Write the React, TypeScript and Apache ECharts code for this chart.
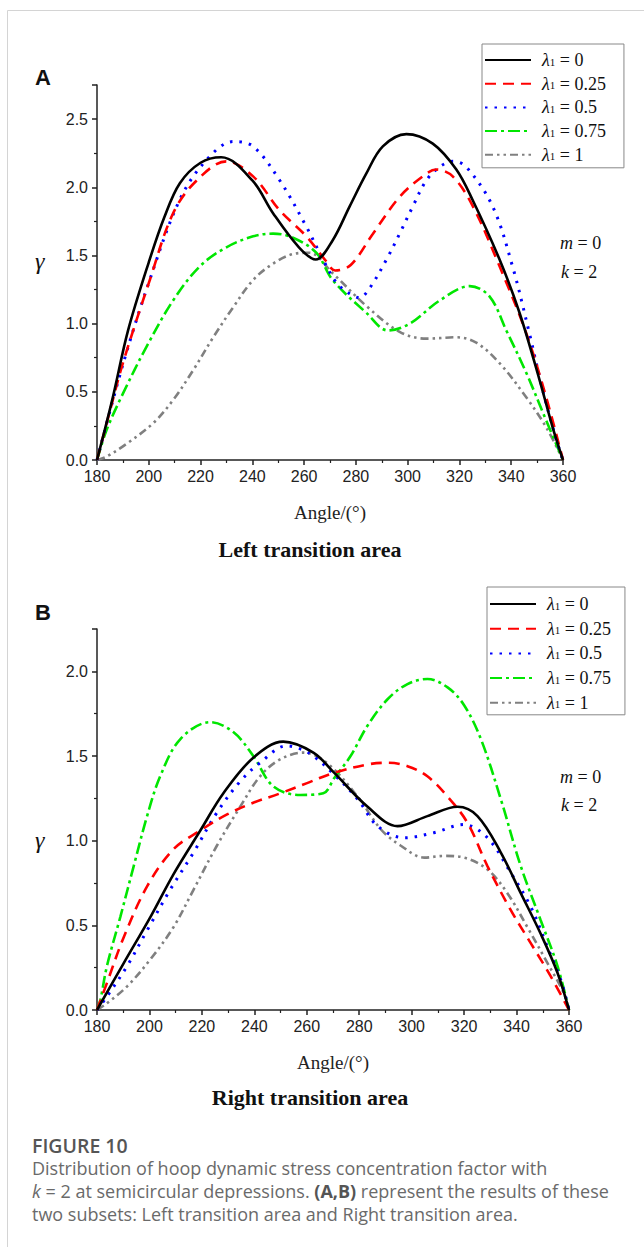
import React, { useEffect, useRef } from "react";
import * as echarts from "echarts";

type P = [number, number];

const lambdaNames = ["0", "0.25", "0.5", "0.75", "1"];
const xMin = 180;
const xMax = 360;

// Panel A: Left transition area
const aLam0: P[] = [[180,0],[186,0.45],[192,0.95],[200,1.45],[206,1.78],[212,2.03],[220,2.18],[228,2.22],[240,2.05],[248,1.81],[258,1.56],[264.5,1.47],[271,1.61],[277.6,1.86],[284,2.1],[290.4,2.3],[299.5,2.39],[309.7,2.32],[318.8,2.13],[325,1.91],[335.5,1.47],[343.2,1.08],[350.9,0.59],[356,0.24],[360,0]];
const aLam025: P[] = [[180,0],[185,0.36],[190,0.71],[200.4,1.32],[209.4,1.81],[218.5,2.05],[230,2.19],[240.3,2.08],[250.6,1.83],[260.9,1.64],[268,1.47],[272,1.39],[278,1.43],[286.6,1.66],[296.9,1.93],[305.8,2.08],[311,2.13],[317.4,2.08],[325.2,1.86],[335.5,1.42],[345.8,0.93],[353.5,0.46],[360,0]];
const aLam05: P[] = [[180,0],[190,0.7],[200,1.3],[212,1.91],[222.3,2.2],[232.6,2.335],[240.3,2.3],[250.6,2.05],[260.9,1.71],[267.3,1.47],[272.5,1.3],[277.6,1.22],[281.4,1.19],[285.3,1.26],[291.8,1.47],[296.9,1.66],[302,1.86],[307.2,2.05],[312.4,2.15],[317.5,2.19],[322.6,2.15],[332.8,1.86],[340.5,1.42],[347,0.93],[352.2,0.51],[357.4,0.15],[360,0]];
const aLam075: P[] = [[180,0],[183.7,0.22],[190.1,0.49],[199.1,0.83],[209.4,1.17],[219.7,1.42],[230,1.56],[240.3,1.64],[248,1.66],[255.7,1.63],[264.7,1.52],[271,1.32],[284,1.08],[292.4,0.95],[300.8,1.0],[312.4,1.17],[324,1.275],[331.6,1.2],[338.1,0.95],[345.8,0.64],[353.5,0.29],[360,0]];
const aLam1: P[] = [[180,0],[183.7,0.025],[191.5,0.12],[201.7,0.27],[209.4,0.44],[217.2,0.66],[224.9,0.9],[232.6,1.12],[240.3,1.32],[248,1.44],[255.7,1.51],[262,1.52],[271,1.37],[284,1.13],[296.9,0.94],[307.2,0.89],[318.8,0.9],[326.5,0.86],[335.5,0.71],[345.8,0.46],[353.5,0.24],[360,0]];

// Panel B: Right transition area
const bLam0: P[] = [[180,0],[190.2,0.277],[200.4,0.55],[209.1,0.8],[219.4,1.06],[228.2,1.28],[239.6,1.49],[251,1.585],[262.5,1.52],[270.5,1.4],[283.2,1.2],[294.6,1.086],[306,1.145],[317.5,1.2],[325.1,1.145],[334,0.93],[341.6,0.69],[349.2,0.45],[355.6,0.22],[360,0]];
const bLam025: P[] = [[180,0],[183.8,0.16],[190.2,0.43],[199.1,0.73],[209.2,0.95],[219.4,1.06],[229.6,1.155],[239.8,1.225],[250,1.28],[260.1,1.34],[270.3,1.4],[283.2,1.45],[290.8,1.46],[298.4,1.44],[306,1.38],[313.7,1.26],[321.3,1.105],[328.9,0.85],[337.8,0.59],[345.4,0.395],[353,0.2],[360,0]];
const bLam05: P[] = [[180,0],[183.8,0.08],[191.5,0.26],[199.1,0.47],[207.9,0.71],[216.8,0.93],[225.7,1.165],[234.6,1.35],[242.2,1.46],[252.3,1.56],[257.8,1.54],[262.5,1.5],[270.5,1.39],[279.4,1.245],[287,1.086],[297.1,1.017],[308.5,1.047],[319.9,1.095],[328.9,1.017],[337.8,0.81],[345.4,0.61],[351.7,0.375],[356.8,0.18],[360,0]];
const bLam075: P[] = [[180,0],[181.3,0.06],[183.8,0.26],[188.9,0.55],[194,0.85],[199.1,1.145],[204.1,1.38],[211.8,1.6],[223.2,1.7],[232.1,1.64],[239.6,1.5],[247.3,1.32],[257.5,1.27],[266.3,1.28],[270.5,1.37],[276.7,1.5],[283.2,1.68],[290.8,1.835],[298.4,1.925],[306,1.955],[313.7,1.905],[320,1.8],[326.4,1.6],[334,1.245],[341.6,0.85],[349.2,0.53],[355.6,0.26],[360,0]];
const bLam1: P[] = [[180,0],[183.8,0.04],[191.5,0.14],[200.4,0.3],[209.2,0.49],[216.8,0.71],[225.7,0.97],[234.6,1.2],[242.2,1.38],[249.8,1.48],[258.7,1.52],[267.6,1.46],[279.4,1.26],[288.3,1.066],[295.9,0.97],[304.8,0.9],[312.4,0.91],[320,0.9],[328.9,0.83],[336.5,0.69],[344.1,0.49],[351.7,0.28],[358,0.1],[360,0]];

const dataA = [aLam0, aLam025, aLam05, aLam075, aLam1];
const dataB = [bLam0, bLam025, bLam05, bLam075, bLam1];

const colors = ["#000000", "#ff0000", "#0000ff", "#00e600", "#808080"];
const dashes: any[] = ["solid", [11, 7], [2.5, 7], [12, 4, 3, 4], [8, 4, 2.5, 4, 2.5, 4]];
const widths = [2.6, 2.6, 3, 2.6, 2.6];

const serif = "'Liberation Serif', 'Times New Roman', serif";
const sans = "'Liberation Sans', Arial, sans-serif";

export default function App() {
  const ref = useRef<HTMLDivElement>(null);
  useEffect(() => {
    if (!ref.current) return;
    const chart = echarts.init(ref.current, undefined, { renderer: "svg" });

    const mkX = (i: number) => ({
      type: "value",
      gridIndex: i,
      min: xMin,
      max: xMax,
      interval: 20,
      axisLine: { lineStyle: { color: "#222", width: 1.5 } },
      axisTick: { inside: false, length: 5, lineStyle: { color: "#222", width: 1.5 } },
      minorTick: { show: true, splitNumber: 2, length: 3, lineStyle: { color: "#222", width: 1.2 } },
      splitLine: { show: false },
      axisLabel: { color: "#222", fontFamily: sans, fontSize: 16, margin: 8 },
      name: "Angle/(°)",
      nameLocation: "middle",
      nameGap: 43,
      nameTextStyle: { fontFamily: serif, fontSize: 19, color: "#222" },
    });
    const mkY = (i: number, max: number) => ({
      type: "value",
      gridIndex: i,
      min: 0,
      max,
      interval: 0.5,
      axisLine: { show: true, lineStyle: { color: "#222", width: 1.5 } },
      axisTick: { show: true, inside: false, length: 5, lineStyle: { color: "#222", width: 1.5 } },
      minorTick: { show: true, splitNumber: 2, length: 3, lineStyle: { color: "#222", width: 1.2 } },
      splitLine: { show: false },
      axisLabel: { color: "#222", fontFamily: sans, fontSize: 16, margin: 9, showMaxLabel: false, formatter: (v: number) => v.toFixed(1) },
    });

    const legendRich = {
      l: { fontFamily: serif, fontStyle: "italic", fontSize: 18, color: "#111", lineHeight: 14, padding: [0, 0, 0, 6] },
      s: { fontFamily: serif, fontSize: 11, color: "#111", lineHeight: 6, verticalAlign: "bottom" },
      t: { fontFamily: serif, fontSize: 18, color: "#111", lineHeight: 14 },
    };
    const mkLegend = (left: number, top: number, gap: number, pad: number[]) => ({
      orient: "vertical",
      left,
      top,
      data: lambdaNames,
      itemWidth: 46,
      itemHeight: 14,
      itemGap: gap,
      padding: pad,
      borderColor: "#888",
      borderWidth: 1,
      selectedMode: false,
      itemStyle: { opacity: 0 },
      formatter: (n: string) => `{l|λ}{s|1}{t| = ${n}}`,
      textStyle: { rich: legendRich, fontFamily: serif, fontSize: 18, lineHeight: 14 },
    });

    const series: any[] = [];
    [dataA, dataB].forEach((set, gi) => {
      set.forEach((d, k) => {
        series.push({
          type: "line",
          name: lambdaNames[k],
          xAxisIndex: gi,
          yAxisIndex: gi,
          data: d,
          smooth: 0.35,
          symbol: "none",
          lineStyle: { color: colors[k], width: widths[k], type: dashes[k] },
          itemStyle: { color: colors[k] },
          z: 10 - k,
        });
      });
    });

    const txt = (text: string, x: number, y: number, font: string, extra: any = {}) => ({
      type: "text",
      x,
      y,
      style: { text, font, fill: "#111", textVerticalAlign: "middle", ...extra },
    });
    const richTxt = (text: string, x: number, y: number, rich: any, extra: any = {}) => ({
      type: "text",
      x,
      y,
      style: { text, rich, fill: "#111", textVerticalAlign: "middle", ...extra },
    });
    const mkRich = {
      i: { fontFamily: serif, fontStyle: "italic", fontSize: 18, fill: "#111" },
      n: { fontFamily: serif, fontSize: 18, fill: "#111" },
    };
    const capFont = "'Open Sans', sans-serif";
    const capRich = {
      r: { fontFamily: capFont, fontSize: 18, fill: "#6a6a6a", lineHeight: 20 },
      i: { fontFamily: capFont, fontStyle: "italic", fontSize: 18, fill: "#6a6a6a", lineHeight: 20 },
      b: { fontFamily: capFont, fontWeight: "bold", fontSize: 18, fill: "#555", lineHeight: 20 },
    };

    const graphic: any[] = [
      { type: "line", shape: { x1: 7.5, y1: 10.5, x2: 644, y2: 10.5 }, style: { stroke: "#d4d4d4", lineWidth: 1 } },
      { type: "line", shape: { x1: 7.5, y1: 10.5, x2: 7.5, y2: 1247 }, style: { stroke: "#d4d4d4", lineWidth: 1 } },
      txt("A", 35, 77, `bold 22px ${sans}`),
      txt("B", 35, 612, `bold 22px ${sans}`),
      txt("γ", 35, 261, `italic 24px ${serif}`),
      txt("γ", 35, 840, `italic 24px ${serif}`),
      richTxt("{i|m}{n| = 0}", 560, 243, mkRich),
      richTxt("{i|k}{n| = 2}", 561, 272, mkRich),
      richTxt("{i|m}{n| = 0}", 560, 777, mkRich),
      richTxt("{i|k}{n| = 2}", 561, 805, mkRich),
      txt("Left transition area", 310, 549, `bold 22px ${serif}`, { textAlign: "center" }),
      txt("Right transition area", 310, 1097, `bold 22px ${serif}`, { textAlign: "center" }),
      txt("FIGURE 10", 32, 1145, `600 19.5px ${capFont}`, { fill: "#555" }),
      richTxt("{r|Distribution of hoop dynamic stress concentration factor with}", 32, 1168, capRich),
      richTxt("{i|k}{r| = 2 at semicircular depressions. }{b|(A,B)}{r| represent the results of these}", 32, 1191, capRich),
      richTxt("{r|two subsets: Left transition area and Right transition area.}", 32, 1214, capRich),
    ];

    chart.setOption({
      animation: false,
      graphic,
      grid: [
        { left: 97, top: 85, width: 466, height: 375 },
        { left: 97, top: 629, width: 472, height: 381 },
      ],
      xAxis: [mkX(0), mkX(1)],
      yAxis: [mkY(0, 2.75), mkY(1, 2.25)],
      legend: [mkLegend(482, 44, 5.7, [7, 18, 4, 2]), mkLegend(487, 587, 6.7, [8, 14, 3, 2])],
      series,
    });
    return () => chart.dispose();
  }, []);
  return <div ref={ref} style={{ position: "absolute", left: 0, top: 0, width: 644, height: 1247, background: "#fff" }} />;
}
